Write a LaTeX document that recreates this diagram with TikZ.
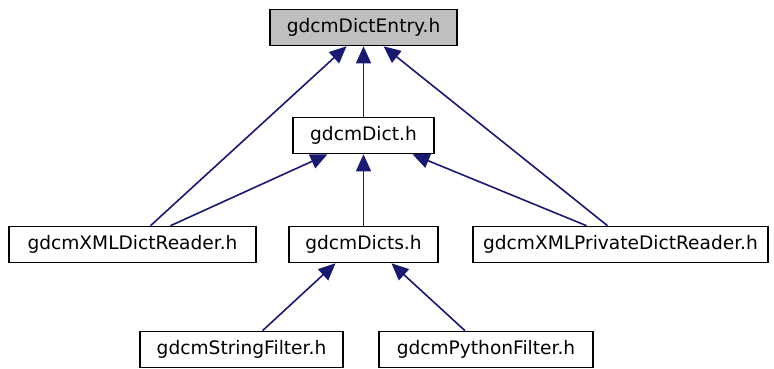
\documentclass[tikz,border=0pt]{standalone}
\usepackage{fontspec}
\setmainfont{DejaVu Sans}
\usetikzlibrary{arrows.meta}
\definecolor{edgeblue}{RGB}{25,25,112}
\definecolor{rootgray}{RGB}{191,191,191}

\begin{document}
\begin{tikzpicture}[x=1pt, y=-1pt, line join=miter]
\tikzset{file/.style={draw=black, line width=1.6pt, fill=white, minimum height=36pt, inner sep=0pt, font=\fontsize{18.6}{20}\selectfont},
         root/.style={file, fill=rootgray},
         dep/.style={{Triangle[length=17pt,width=15pt]}-, draw=edgeblue, fill=edgeblue, line width=1.6pt}}
\useasboundingbox (0,0) rectangle (774,368);

% files (px)
\node[root, minimum width=187pt] (entry) at (363.5,27.5) {gdcmDictEntry.h};
\node[file, minimum width=141pt] (dict) at (363.5,135.5) {gdcmDict.h};
\node[file, minimum width=247pt] (xmlreader) at (132.5,244.5) {gdcmXMLDictReader.h};
\node[file, minimum width=149pt] (dicts) at (363.5,244.5) {gdcmDicts.h};
\node[file, minimum width=295pt] (xmlpriv) at (620.5,244.5) {gdcmXMLPrivateDictReader.h};
\node[file, minimum width=203pt] (strfilter) at (241.5,349.5) {gdcmStringFilter.h};
\node[file, minimum width=214pt] (pyfilter) at (486,349.5) {gdcmPythonFilter.h};

% includes (arrow at the included file)
\draw[dep] ([xshift=-17pt]entry.south) -- ([xshift=18pt]xmlreader.north);
\draw[dep] (entry.south) -- (dict.north);
\draw[dep] ([xshift=20pt]entry.south) -- ([xshift=-13pt]xmlpriv.north);
\draw[dep] ([xshift=-36pt]dict.south) -- ([xshift=38pt]xmlreader.north);
\draw[dep] (dict.south) -- (dicts.north);
\draw[dep] ([xshift=49pt]dict.south) -- ([xshift=-34pt]xmlpriv.north);
\draw[dep] ([xshift=-28pt]dicts.south) -- ([xshift=21pt]strfilter.north);
\draw[dep] ([xshift=28pt]dicts.south) -- ([xshift=-21pt]pyfilter.north);
\end{tikzpicture}
\end{document}
